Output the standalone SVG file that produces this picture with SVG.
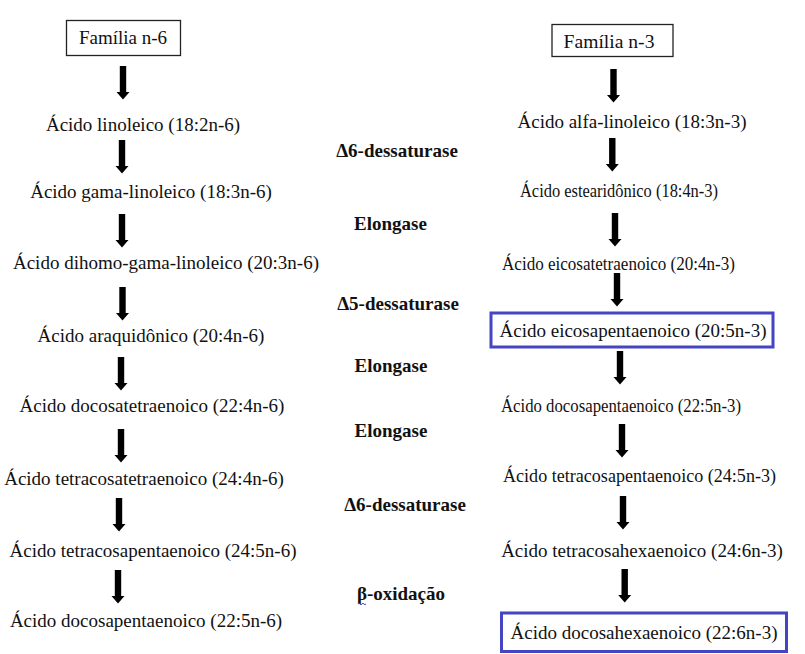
<svg xmlns="http://www.w3.org/2000/svg" xmlns:xlink="http://www.w3.org/1999/xlink" width="805" height="654" viewBox="0 0 805 654">
<style>
  text { font-family: 'Liberation Serif', 'Times New Roman', Times, serif; font-size: 19px; fill: #111; text-anchor: middle; }
  .b { font-weight: bold; }
  .c { font-size: 18.5px; }
  .box { fill: #fff; stroke: #222; stroke-width: 1.3; }
  .hl { fill: none; stroke: #4545c4; stroke-width: 3; }
  .arrow { fill: #000; }
</style>
<defs>
  <path id="arr" d="M-3.2,0 H3.2 V26 H6.5 L0,33.5 L-6.5,26 H-3.2 Z"/>
</defs>
<rect width="805" height="654" fill="#fff"/>

<g id="connectors" class="arrow">
  <use xlink:href="#arr" x="123" y="66"/>
  <use xlink:href="#arr" x="122" y="140"/>
  <use xlink:href="#arr" x="122" y="214"/>
  <use xlink:href="#arr" x="122.5" y="287"/>
  <use xlink:href="#arr" x="121" y="357"/>
  <use xlink:href="#arr" x="121" y="429"/>
  <use xlink:href="#arr" x="119" y="498"/>
  <use xlink:href="#arr" x="118" y="570"/>

  <use xlink:href="#arr" x="613.5" y="69"/>
  <use xlink:href="#arr" x="612.3" y="138"/>
  <use xlink:href="#arr" x="615" y="213"/>
  <use xlink:href="#arr" x="617" y="273"/>
  <use xlink:href="#arr" x="620" y="351"/>
  <use xlink:href="#arr" x="622" y="424"/>
  <use xlink:href="#arr" x="623" y="496"/>
  <use xlink:href="#arr" x="624.7" y="569"/>
</g>

<g id="familia-n6">
  <rect class="box" x="66.5" y="20.5" width="114" height="35"/>
  <text x="123" y="44">Família n-6</text>
</g>
<g id="familia-n3">
  <rect class="box" x="552" y="24.5" width="121" height="32"/>
  <text x="609" y="48" style="font-size:19.6px">Família n-3</text>
</g>

<g id="n6-1"><text x="143" y="131">Ácido linoleico (18:2n-6)</text></g>
<g id="n6-2"><text x="151" y="198">Ácido gama-linoleico (18:3n-6)</text></g>
<g id="n6-3"><text x="166" y="269">Ácido dihomo-gama-linoleico (20:3n-6)</text></g>
<g id="n6-4"><text x="151" y="342">Ácido araquidônico (20:4n-6)</text></g>
<g id="n6-5"><text x="152" y="412">Ácido docosatetraenoico (22:4n-6)</text></g>
<g id="n6-6"><text x="144" y="485">Ácido tetracosatetraenoico (24:4n-6)</text></g>
<g id="n6-7"><text x="153" y="557">Ácido tetracosapentaenoico (24:5n-6)</text></g>
<g id="n6-8"><text x="146" y="627">Ácido docosapentaenoico (22:5n-6)</text></g>

<g id="n3-1"><text x="632" y="128">Ácido alfa-linoleico (18:3n-3)</text></g>
<g id="n3-2"><text class="c" x="619" y="197" textLength="198" lengthAdjust="spacingAndGlyphs">Ácido estearidônico (18:4n-3)</text></g>
<g id="n3-3"><text class="c" x="618.5" y="270" textLength="233" lengthAdjust="spacingAndGlyphs">Ácido eicosatetraenoico (20:4n-3)</text></g>
<g id="n3-4">
  <rect class="hl" x="491" y="313" width="282" height="34"/>
  <text x="633" y="337">Ácido eicosapentaenoico (20:5n-3)</text>
</g>
<g id="n3-5"><text class="c" x="621" y="412" textLength="240" lengthAdjust="spacingAndGlyphs">Ácido docosapentaenoico (22:5n-3)</text></g>
<g id="n3-6"><text class="c" x="639.5" y="482" textLength="273" lengthAdjust="spacingAndGlyphs">Ácido tetracosapentaenoico (24:5n-3)</text></g>
<g id="n3-7"><text x="642" y="557">Ácido tetracosahexaenoico (24:6n-3)</text></g>
<g id="n3-8">
  <rect class="hl" x="501.5" y="613" width="285" height="38.5"/>
  <text x="644" y="639">Ácido docosahexaenoico (22:6n-3)</text>
</g>

<g id="enzymes">
  <text class="b" x="397" y="157">Δ6-dessaturase</text>
  <text class="b" x="390.5" y="230">Elongase</text>
  <text class="b" x="398" y="310">Δ5-dessaturase</text>
  <text class="b" x="391" y="372">Elongase</text>
  <text class="b" x="391" y="437">Elongase</text>
  <text class="b" x="405" y="511">Δ6-dessaturase</text>
  <text class="b" x="401" y="600">β-oxidação</text>
  <path d="M358,604 q1,-1.5 2,0 t2,0 t2,0 t2,0" fill="none" stroke="#4545c4" stroke-width="1"/>
</g>
</svg>
